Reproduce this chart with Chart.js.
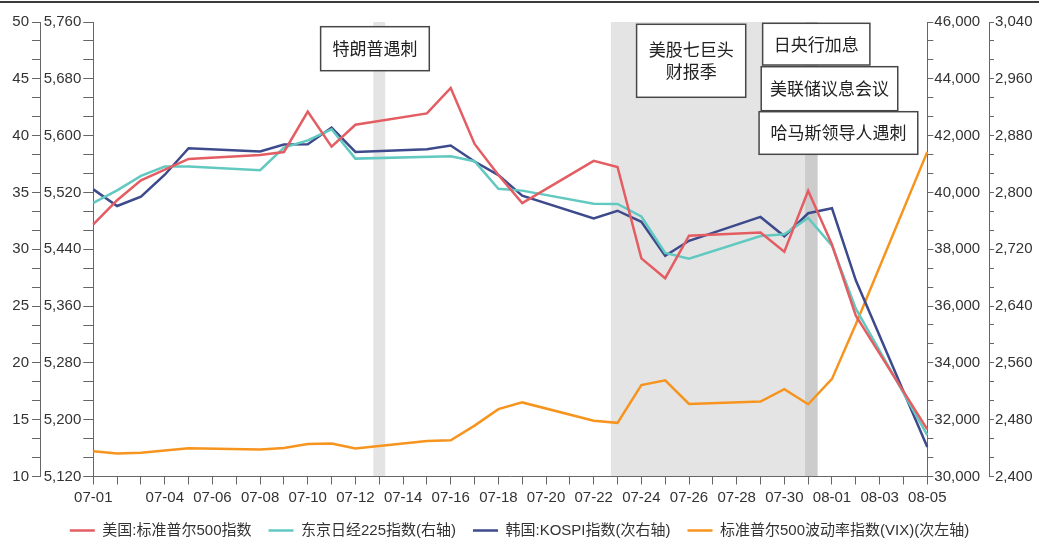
<!DOCTYPE html>
<html><head><meta charset="utf-8">
<script src="https://cdn.jsdelivr.net/npm/chart.js@4.4.1/dist/chart.umd.min.js"></script>
<style>
html,body{margin:0;padding:0;background:#fff;overflow:hidden;}
#wrap{position:relative;width:1039px;height:538px;overflow:hidden;background:#fff;}
#topline{position:absolute;left:0;top:1px;width:1039px;height:2px;background:#3c3c3c;}
canvas{display:block;}
</style></head><body>
<div id="wrap"><canvas id="c" width="1039" height="548"></canvas><div id="topline"></div></div>
<script>
// ---- data ----
const dates = ['07-01','07-02','07-03','07-04','07-05','07-06','07-07','07-08','07-09','07-10','07-11','07-12',
  '07-13','07-14','07-15','07-16','07-17','07-18','07-19','07-20','07-21','07-22','07-23','07-24','07-25','07-26',
  '07-27','07-28','07-29','07-30','07-31','08-01','08-02','08-03','08-04','08-05'];
const shownDateLabels = ['07-01','07-04','07-06','07-08','07-10','07-12','07-14','07-16','07-18','07-20','07-22',
  '07-24','07-26','07-28','07-30','08-01','08-03','08-05'];
const sp500 = [5475.09,5509.01,5537.02,null,5567.19,null,null,5572.85,5576.98,5633.91,5584.54,5615.35,
  null,null,5631.22,5667.20,5588.27,5544.59,5505.00,null,null,5564.41,5555.74,5427.13,5399.22,5459.10,
  null,null,5463.54,5436.44,5522.30,5446.68,5346.56,null,null,5186.33];
const nikkei = [39631.06,40074.69,40580.76,40913.65,40912.37,null,null,40780.70,41580.17,41831.99,42224.02,41190.68,
  null,null,null,41275.08,41097.69,40126.35,40063.79,null,null,39599.00,39594.39,39154.85,37869.51,37667.41,
  null,null,38468.63,38525.95,39101.82,38126.33,35909.70,null,null,31458.42];
const kospi = [2804.31,2780.86,2794.01,2824.94,2862.23,null,null,2857.76,2867.38,2867.99,2891.35,2857.00,
  null,null,2860.92,2866.09,2843.58,2824.35,2795.46,null,null,2763.51,2774.26,2758.71,2710.65,2731.90,
  null,null,2765.52,2738.19,2770.69,2777.68,2676.19,null,null,2441.55];
const vix = [12.22,12.03,12.09,null,12.48,null,null,12.37,12.51,12.85,12.91,12.46,
  null,null,13.12,13.19,14.48,15.93,16.52,null,null,14.91,14.72,18.04,18.46,16.39,
  null,null,16.60,17.69,16.36,18.59,23.39,null,null,38.57];
const vixTicks = [10,15,20,25,30,35,40,45,50];
const spTicks = [5120,5200,5280,5360,5440,5520,5600,5680,5760];
const nikkeiTicks = [30000,32000,34000,36000,38000,40000,42000,44000,46000];
const kospiTicks = [2400,2480,2560,2640,2720,2800,2880,2960,3040];
const seriesNames = ['美国:标准普尔500指数','东京日经225指数(右轴)','韩国:KOSPI指数(次右轴)','标准普尔500波动率指数(VIX)(次左轴)'];
const eventBands = [ {from:'07-13', to:'07-13'}, {from:'07-23', to:'07-31'}, {from:'07-31', to:'07-31'} ];
const eventNotes = [
  {lines:['特朗普遇刺'], from:'07-13'},
  {lines:['美股七巨头','财报季'], from:'07-23'},
  {lines:['日央行加息'], from:'07-31'},
  {lines:['美联储议息会议'], from:'07-31'},
  {lines:['哈马斯领导人遇刺'], from:'07-31'}
];
// ---- layout of annotation boxes (index units / px offsets) ----
const noteLayout = [
  {x0:9.54, x1:14.1, y0:4.7, y1:48.7},
  {x0:22.80, x1:27.38, y0:2.3, y1:75.3},
  {x0:28.09, x1:32.59, y0:1.3, y1:43},
  {x0:28.03, x1:33.76, y0:44.7, y1:88.7},
  {x0:27.94, x1:34.6, y0:89.7, y1:132.3}
];
const bandPad = [[-0.25,0.25],[-0.28,0.4],[-0.13,0.4]];

const TICK_FONT = {family:'"Liberation Sans", Arial, sans-serif', size:15};
const AXIS_COLOR = '#666';

function yAxis(pos, major, weight, tickLen, pad, width) {
  const min = major[0], max = major[major.length-1];
  const n = (major.length-1)*3;
  return {
    type:'linear', position:pos, weight, min, max,
    afterBuildTicks: s => { s.ticks = Array.from({length:n+1}, (_,i)=>({value: min + (max-min)*i/n})); },
    ticks:{autoSkip:false, padding:pad, color:'#333', font:TICK_FONT,
      callback:(v,i)=> i%3===0 ? Math.round(v).toLocaleString('en-US') : ''},
    grid:{drawOnChartArea:false, drawTicks:true, tickLength:tickLen, color:AXIS_COLOR, tickColor:AXIS_COLOR, tickWidth:1},
    border:{display:true, color:AXIS_COLOR, width:1},
    afterFit: s => { s.width = width; }
  };
}

const annot = {
  id:'annot',
  beforeDatasetsDraw(chart){
    const {ctx, chartArea:a, scales:{x}} = chart;
    ctx.save();
    ctx.fillStyle = 'rgba(0,0,0,0.105)';
    eventBands.forEach((b,i)=>{
      const l = x.getPixelForValue(dates.indexOf(b.from) + bandPad[i][0]);
      const r = x.getPixelForValue(dates.indexOf(b.to) + bandPad[i][1]);
      ctx.fillRect(l, a.top, r-l, a.bottom - a.top - 0.5);
    });
    ctx.restore();
  },
  afterDatasetsDraw(chart){
    const {ctx, chartArea:a, scales:{x}} = chart;
    ctx.save();
    eventNotes.forEach((n,i)=>{
      const L = noteLayout[i];
      const l = x.getPixelForValue(L.x0), r = x.getPixelForValue(L.x1);
      const t = a.top + L.y0, b = a.top + L.y1;
      ctx.fillStyle = '#fff';
      ctx.fillRect(l, t, r-l, b-t);
      ctx.strokeStyle = '#474747';
      ctx.lineWidth = 1.5;
      ctx.strokeRect(l, t, r-l, b-t);
      ctx.fillStyle = '#222';
      ctx.font = '17px "Noto Sans CJK SC", sans-serif';
      ctx.textAlign = 'center';
      ctx.textBaseline = 'middle';
      const lh = 21.7, cy = (t+b)/2, cx = (l+r)/2;
      n.lines.forEach((s,k)=>{
        ctx.fillText(s, cx, cy + (k - (n.lines.length-1)/2)*lh);
      });
    });
    ctx.restore();
  }
};

const lineDs = (label, data, color, axis) => ({
  label, data, yAxisID:axis, borderColor:color, backgroundColor:color,
  borderWidth:2.5, pointRadius:0, pointHoverRadius:0, tension:0, spanGaps:true, fill:false
});

new Chart(document.getElementById('c'), {
  type:'line',
  data:{
    labels: dates,
    datasets:[
      lineDs(seriesNames[0], sp500, '#e35d63', 'ySP'),
      lineDs(seriesNames[1], nikkei, '#62c9c0', 'yNK'),
      lineDs(seriesNames[2], kospi, '#3d4a8c', 'yKS'),
      lineDs(seriesNames[3], vix, '#f7941e', 'yVIX')
    ]
  },
  options:{
    responsive:false, animation:false, devicePixelRatio:1,
    layout:{padding:{top:22, left:0, right:0, bottom:0}},
    plugins:{
      tooltip:{enabled:false},
      legend:{position:'bottom', labels:{usePointStyle:true, pointStyle:'line', pointStyleWidth:25, padding:17,
        color:'#333', font:{family:'"Liberation Sans", "Noto Sans CJK SC", sans-serif', size:15}}}
    },
    scales:{
      x:{type:'category', offset:false,
        ticks:{autoSkip:false, maxRotation:0, minRotation:0, padding:4, color:'#333', font:TICK_FONT,
          callback:(v,i)=> shownDateLabels.includes(dates[i]) ? dates[i] : ''},
        grid:{drawOnChartArea:false, drawTicks:true, tickLength:8, color:AXIS_COLOR, tickColor:AXIS_COLOR},
        border:{display:true, color:AXIS_COLOR, width:1},
        afterFit: s => { s.height = 29.5; }
      },
      yVIX: yAxis('left', vixTicks, 1, 8, 3, 40),
      ySP: yAxis('left', spTicks, 0, 10, 2, 53.3),
      yNK: yAxis('right', nikkeiTicks, 0, 6, 1, 61.7),
      yKS: yAxis('right', kospiTicks, 1, 5, 1, 50)
    }
  },
  plugins:[annot]
});
</script>
</body></html>
